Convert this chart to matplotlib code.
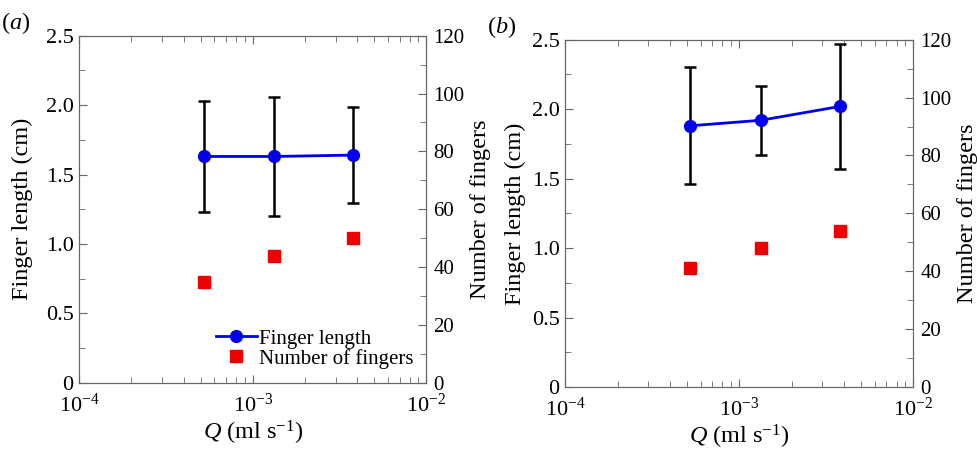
import matplotlib
matplotlib.use("Agg")
import matplotlib.pyplot as plt
from matplotlib.ticker import MultipleLocator, LogLocator, NullFormatter

plt.rcParams['font.family'] = ['Liberation Serif', 'DejaVu Serif']
plt.rcParams['mathtext.fontset'] = 'custom'
plt.rcParams['mathtext.rm'] = 'Liberation Serif'
plt.rcParams['mathtext.it'] = 'Liberation Serif:italic'

# flow rates (ml/s)
q = [5.2e-4, 1.33e-3, 3.8e-3]

# panel (a)
len_a = [1.63, 1.63, 1.64]
err_a = [0.40, 0.43, 0.345]
num_a = [35, 44, 50]

# panel (b)
len_b = [1.88, 1.92, 2.02]
err_b = [0.42, 0.25, 0.45]
num_b = [41, 48, 54]

panels = [("a", len_a, err_a, num_a), ("b", len_b, err_b, num_b)]
boxes = [[0.081, 0.151, 0.355, 0.77], [0.578, 0.142, 0.356, 0.77]]
ylab_pads = [9, 4]

fig = plt.figure(figsize=(9.78, 4.51), dpi=100)
spine_col = '#666666'
fs_tick = 16
fs_lab = 17.5

for (tag, flen, ferr, fnum), box, ypad in zip(panels, boxes, ylab_pads):
    ax = fig.add_axes(box)
    ax2 = ax.twinx()
    ax.set_xscale('log')
    ax.set_xlim(1e-4, 1e-2)
    ax.set_ylim(0, 2.5)
    ax2.set_ylim(0, 120)

    ax.errorbar(q, flen, yerr=ferr, fmt='none', ecolor='black', elinewidth=1.8,
                capsize=4.5, capthick=1.8, zorder=2)
    l1, = ax.plot(q, flen, '-o', color='#0000ee', lw=2, ms=8.5, label='Finger length', zorder=3)
    l2, = ax2.plot(q, fnum, 's', color='#ee0000', ms=8, ls='none', label='Number of fingers')

    ax.set_yticks([0, 0.5, 1.0, 1.5, 2.0, 2.5])
    ax.set_yticklabels(['0', '0.5', '1.0', '1.5', '2.0', '2.5'])
    ax.yaxis.set_minor_locator(MultipleLocator(0.25))
    ax2.yaxis.set_major_locator(MultipleLocator(20))
    ax2.yaxis.set_minor_locator(MultipleLocator(10))
    ax.xaxis.set_major_locator(LogLocator(base=10, numticks=5))
    ax.xaxis.set_minor_locator(LogLocator(base=10, subs=range(2, 10), numticks=20))
    ax.xaxis.set_minor_formatter(NullFormatter())

    ax.tick_params(axis='x', which='both', direction='in', top=True, labelsize=fs_tick,
                   color=spine_col, pad=8)
    ax.tick_params(axis='x', which='major', length=6)
    ax.tick_params(axis='x', which='minor', length=4)
    ax.tick_params(axis='y', which='both', direction='in', labelsize=fs_tick,
                   color=spine_col, pad=4)
    ax.tick_params(axis='y', which='major', length=6)
    ax.tick_params(axis='y', which='minor', length=4)
    ax2.tick_params(axis='y', which='both', direction='in', labelsize=fs_tick - 1,
                    color=spine_col, pad=5)
    ax2.tick_params(axis='y', which='major', length=6)
    ax2.tick_params(axis='y', which='minor', length=4)
    for a in (ax, ax2):
        for s in a.spines.values():
            s.set_color(spine_col)

    ax.set_xlabel(r'$Q$ (ml s$^{-1}$)', fontsize=fs_lab, labelpad=1)
    ax.set_ylabel('Finger length (cm)', fontsize=fs_lab, labelpad=ypad)
    ax2.set_ylabel('Number of fingers', fontsize=fs_lab, labelpad=4)
    ax.text(-0.225, 1.0, '(' + r'$\it{' + tag + '}$' + ')', transform=ax.transAxes,
            fontsize=fs_lab, va='bottom', ha='left')

    if tag == 'a':
        ax.legend([l1, l2], ['Finger length', 'Number of fingers'], loc='lower right',
                  frameon=False, fontsize=15, handlelength=2.0, handletextpad=0.1,
                  labelspacing=0.0, borderaxespad=0.2, bbox_to_anchor=(1.0, 0.005))

fig.savefig('out.png', dpi=100)
